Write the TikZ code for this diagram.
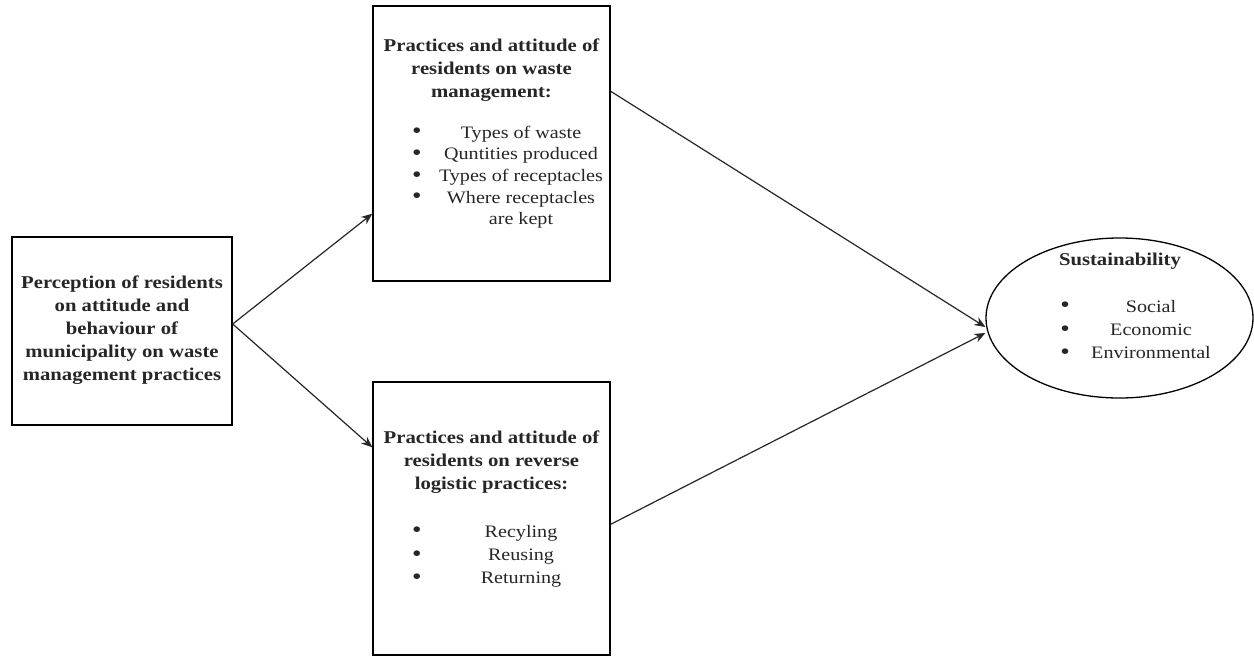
\documentclass[tikz,border=0pt]{standalone}
\usepackage{fontspec}
\setmainfont{Liberation Serif}[FakeStretch=1.15]
\usetikzlibrary{arrows.meta,shapes.geometric}

\tikzset{
  frame/.style={draw=black, line width=1.4pt, fill=white, inner sep=0pt},
  oval/.style={ellipse, draw=black, line width=1.3pt, fill=white, inner sep=0pt},
  link/.style={draw=black!85, line width=1.2pt, -{Stealth[length=11pt,width=9pt]}},
  txt/.style={anchor=base, inner sep=0pt, text=black!85},
}
\newcommand{\headfont}{\fontsize{18}{23}\selectfont\bfseries}
\newcommand{\itemfont}[1]{\fontsize{17.5}{#1}\selectfont}
\newcommand{\blt}{\raisebox{-0.8pt}{\scalebox{1.35}{\textbullet}}}

\begin{document}
\begin{tikzpicture}[x=1pt,y=-1pt]
\useasboundingbox (0,0) rectangle (1254,656);
\fill[white] (0,0) rectangle (1254,656);

% boxes and ellipse
\node[frame, minimum width=220pt, minimum height=188pt] (left) at (122,331) {};
\node[frame, minimum width=237pt, minimum height=275pt] (top) at (491.5,143.5) {};
\node[frame, minimum width=237pt, minimum height=273pt] (bot) at (491.5,518.5) {};
\node[oval, minimum width=267pt, minimum height=160pt] (ell) at (1119.5,318) {};

% left box text
\node[txt] (leftT) at (122,288) {\headfont\begin{tabular}[t]{@{}c@{}}
Perception of residents\\ on attitude and\\ behaviour of\\ municipality on waste\\ management practices\end{tabular}};

% upper box text
\node[txt] (topT) at (491.5,51) {\headfont\begin{tabular}[t]{@{}c@{}}
Practices and attitude of\\ residents on waste\\ management:\end{tabular}};
\node[txt] (topB) at (417,138) {\itemfont{21.7}\begin{tabular}[t]{@{}c@{}}
\blt\\ \blt\\ \blt\\ \blt\end{tabular}};
\node[txt] (topL) at (521,138) {\itemfont{21.7}\begin{tabular}[t]{@{}c@{}}
Types of waste\\ Quntities produced\\ Types of receptacles\\ Where receptacles\\ are kept\end{tabular}};

% lower box text
\node[txt] (botT) at (491.5,443) {\headfont\begin{tabular}[t]{@{}c@{}}
Practices and attitude of\\ residents on reverse\\ logistic practices:\end{tabular}};
\node[txt] (botB) at (417,537) {\itemfont{23.2}\begin{tabular}[t]{@{}c@{}}
\blt\\ \blt\\ \blt\end{tabular}};
\node[txt] (botL) at (521,537) {\itemfont{23.2}\begin{tabular}[t]{@{}c@{}}
Recyling\\ Reusing\\ Returning\end{tabular}};

% ellipse text
\node[txt] (ellT) at (1120,265) {\headfont Sustainability};
\node[txt] (ellB) at (1065,312) {\itemfont{23.2}\begin{tabular}[t]{@{}c@{}}
\blt\\ \blt\\ \blt\end{tabular}};
\node[txt] (ellL) at (1151,312) {\itemfont{23.2}\begin{tabular}[t]{@{}c@{}}
Social\\ Economic\\ Environmental\end{tabular}};

% connectors
\draw[link] ([yshift=7pt]left.east) -- ([yshift=68pt]top.south west);
\draw[link] ([yshift=7pt]left.east) -- ([yshift=-66pt]bot.north west);
\draw[link] ([yshift=-86pt]top.north east) -- ([yshift=-9pt]ell.west);
\draw[link] ([yshift=-143pt]bot.north east) -- ([yshift=-15pt]ell.west);
\end{tikzpicture}
\end{document}
